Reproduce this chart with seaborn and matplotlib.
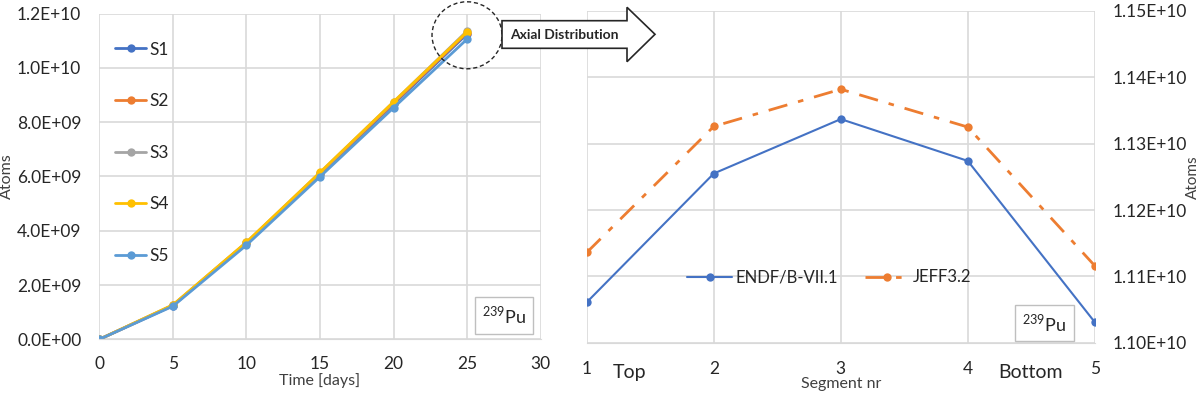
import pandas as pd
import seaborn as sns
import matplotlib.pyplot as plt
from matplotlib.patches import Polygon, Ellipse

# Left panel: 239Pu build-up per segment over time
days = [0, 5, 10, 15, 20, 25]
s1 = [0, 1.24e9, 3.54e9, 6.08e9, 8.66e9, 1.125e10]
s2 = [0, 1.25e9, 3.56e9, 6.11e9, 8.70e9, 1.130e10]
s3 = [0, 1.26e9, 3.57e9, 6.14e9, 8.74e9, 1.136e10]
s4 = [0, 1.27e9, 3.58e9, 6.15e9, 8.75e9, 1.133e10]
s5 = [0, 1.22e9, 3.47e9, 5.99e9, 8.53e9, 1.106e10]
series_names = ['S1', 'S2', 'S3', 'S4', 'S5']

# Right panel: axial distribution at day 25
segments = [1, 2, 3, 4, 5]
endf = [1.1061e10, 1.1255e10, 1.1337e10, 1.1274e10, 1.1031e10]
jeff = [1.1136e10, 1.1326e10, 1.1382e10, 1.1325e10, 1.1116e10]

left_yticks = [0, 2e9, 4e9, 6e9, 8e9, 1e10, 1.2e10]
left_ylabels = ['0.0E+00', '2.0E+09', '4.0E+09', '6.0E+09', '8.0E+09', '1.0E+10', '1.2E+10']
right_yticks = [1.10e10, 1.11e10, 1.12e10, 1.13e10, 1.14e10, 1.15e10]
right_ylabels = ['1.10E+10', '1.11E+10', '1.12E+10', '1.13E+10', '1.14E+10', '1.15E+10']

colors = ['#4472C4', '#ED7D31', '#A5A5A5', '#FFC000', '#5B9BD5']

sns.set_style('whitegrid')
plt.rcParams['font.family'] = ['Lato', 'DejaVu Sans']
plt.rcParams['mathtext.fontset'] = 'custom'
plt.rcParams['mathtext.rm'] = 'Lato'
grid_c = '#d9d9d9'
txt_c = '#404040'

fig = plt.figure(figsize=(12, 3.94), dpi=100)
ax1 = fig.add_axes([0.0828, 0.1388, 0.3678, 0.8269])
ax2 = fig.add_axes([0.489, 0.1302, 0.4233, 0.842])

# long-form data for the left panel
df = pd.DataFrame({'Time': days * 5,
                   'Atoms': s1 + s2 + s3 + s4 + s5,
                   'Series': sum([[n] * len(days) for n in series_names], [])})
sns.lineplot(data=df, x='Time', y='Atoms', hue='Series', palette=colors,
             marker='o', markersize=6, markeredgewidth=0, linewidth=2, ax=ax1)

ax1.set_xlim(0, 30)
ax1.set_ylim(0, 1.2e10)
ax1.set_xticks(range(0, 31, 5))
ax1.set_yticks(left_yticks)
ax1.set_yticklabels(left_ylabels)
ax1.set_xlabel('Time [days]', fontsize=11.5, color=txt_c, labelpad=1)
ax1.set_ylabel('Atoms', fontsize=11.5, color=txt_c, labelpad=2)
ax1.legend(loc='upper left', bbox_to_anchor=(0.0, 0.962), frameon=False,
           fontsize=12.5, labelspacing=2.05, handlelength=1.8,
           handletextpad=0.2)

# right panel
sns.lineplot(x=segments, y=endf, color='#4472C4', marker='o', markersize=6,
             markeredgewidth=0, linewidth=1.5, label='ENDF/B-VII.1', ax=ax2)
sns.lineplot(x=segments, y=jeff, color='#ED7D31', marker='o', markersize=6,
             markeredgewidth=0, linewidth=2, linestyle=(0, (7, 4, 2, 4)),
             label='JEFF3.2', ax=ax2)
ax2.set_xlim(1, 5)
ax2.set_ylim(1.10e10, 1.15e10)
ax2.set_xticks(segments)
ax2.set_yticks(right_yticks)
ax2.set_yticklabels(right_ylabels)
ax2.yaxis.tick_right()
ax2.yaxis.set_label_position('right')
ax2.set_xlabel('Segment nr', fontsize=11.5, color=txt_c, labelpad=0)
ax2.set_ylabel('Atoms', fontsize=11, color=txt_c, labelpad=-1)
ax2.legend(loc='center', bbox_to_anchor=(0.478, 0.197), ncol=2, frameon=False,
           fontsize=12, handlelength=2.7, handletextpad=0.2, columnspacing=1.6)
ax2.text(0.085, -0.065, 'Top', transform=ax2.transAxes, fontsize=14,
         color='#262626', ha='center', va='top')
ax2.text(0.874, -0.065, 'Bottom', transform=ax2.transAxes, fontsize=14,
         color='#262626', ha='center', va='top')

for ax in (ax1, ax2):
    ax.grid(True, color=grid_c, linewidth=1.2)
    for sp in ax.spines.values():
        sp.set_visible(False)
    ax.spines['bottom'].set_visible(True)
    ax.spines['bottom'].set_color(grid_c)
    ax.tick_params(axis='both', labelsize=12.5, colors='#262626', length=0)
ax1.tick_params(axis='y', pad=13)
ax1.tick_params(axis='x', pad=12)
ax2.tick_params(axis='y', pad=13)
ax2.tick_params(axis='x', pad=13)

# 239Pu boxes
ax1.text(0.917, 0.073, r'$^{239}$Pu', transform=ax1.transAxes, fontsize=13,
         ha='center', va='center', color='#262626',
         bbox=dict(boxstyle='square,pad=0.4', fc='white', ec='#bfbfbf', lw=1))
ax2.text(0.9006, 0.059, r'$^{239}$Pu', transform=ax2.transAxes, fontsize=13,
         ha='center', va='center', color='#262626',
         bbox=dict(boxstyle='square,pad=0.4', fc='white', ec='#bfbfbf', lw=1))

# overlay: dashed circle and arrow, in pixel coordinates
ov = fig.add_axes([0, 0, 1, 1], facecolor='none')
ov.set_xlim(0, 1200)
ov.set_ylim(394, 0)
ov.axis('off')
ov.add_patch(Ellipse((467, 35.3), 70, 67, fill=False, ec='#262626', lw=1,
                     ls=(0, (3, 2))))
arrow = [(502, 20.7), (627, 20.7), (627, 7.3), (655, 34.3), (627, 61.7),
         (627, 48.3), (502, 48.3)]
ov.add_patch(Polygon(arrow, closed=True, fc='white', ec='#262626', lw=1.2))
ov.text(564.5, 35, 'Axial Distribution', fontsize=10, fontweight='bold',
        ha='center', va='center', color='#262626')

fig.savefig('out.png', dpi=100)
